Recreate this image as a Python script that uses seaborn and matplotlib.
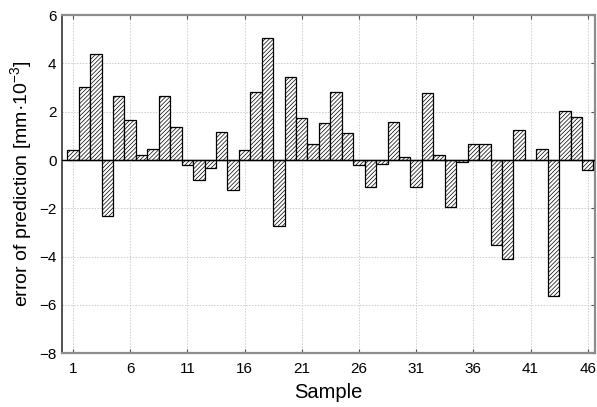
import matplotlib
matplotlib.use("Agg")
import matplotlib.pyplot as plt
import seaborn as sns
import numpy as np
import pandas as pd

samples = list(range(1, 47))
errors = [0.43, 3.02, 4.39, -2.33, 2.63, 1.66, 0.21, 0.45, 2.63, 1.38,
          -0.21, -0.83, -0.33, 1.18, -1.23, 0.43, 2.82, 5.05, -2.73, 3.44,
          1.74, 0.67, 1.53, 2.82, 1.12, -0.21, -1.11, -0.15, 1.59, 0.12,
          -1.11, 2.76, 0.21, -1.96, -0.08, 0.67, 0.67, -3.52, -4.09, 1.25,
          0.02, 0.44, -5.62, 2.01, 1.78, -0.43]
xticks = [1, 6, 11, 16, 21, 26, 31, 36, 41, 46]
yticks = [-8, -6, -4, -2, 0, 2, 4, 6]

sns.set_style("white")
plt.rcParams['font.family'] = ['Liberation Sans', 'DejaVu Sans']
plt.rcParams['mathtext.fontset'] = 'custom'
plt.rcParams['mathtext.rm'] = 'Liberation Sans'
plt.rcParams['mathtext.it'] = 'Liberation Sans:italic'
plt.rcParams['mathtext.bf'] = 'Liberation Sans:bold'
plt.rcParams['hatch.linewidth'] = 0.5
plt.rcParams['hatch.color'] = '#222222'
plt.rcParams['text.color'] = 'black'
plt.rcParams['axes.labelcolor'] = 'black'
plt.rcParams['xtick.labelcolor'] = 'black'
plt.rcParams['ytick.labelcolor'] = 'black'

df = pd.DataFrame({"Sample": samples, "error": errors})

fig = plt.figure(figsize=(5.97, 4.07), dpi=100)
ax = fig.add_axes([0.104, 0.132, 0.893, 0.831])

sns.barplot(data=df, x="Sample", y="error", native_scale=True, width=1.0,
            color="white", edgecolor="black", linewidth=0.9, ax=ax, zorder=3)
for p in ax.patches:
    p.set_hatch("////////")
    p.set_facecolor("white")
    p.set_edgecolor("black")

ax.axhline(0, color="black", lw=1.0, zorder=4)
ax.set_xlim(0.05, 46.65)
ax.set_ylim(-8, 6)
ax.set_xticks(xticks)
ax.set_yticks(yticks)
ax.grid(True, color="#cccccc", linestyle=(0, (1.5, 1.5)), linewidth=0.7, zorder=0)
ax.set_axisbelow(True)

ax.tick_params(axis="x", direction="in", length=3, top=True, bottom=True,
               labelsize=11, color="#555555", labelcolor="black", pad=6)
ax.tick_params(axis="y", direction="in", length=3, left=False, right=True,
               labelsize=11, color="#555555", labelcolor="black", pad=4)

for s in ["top", "bottom", "right"]:
    ax.spines[s].set_color("#8c8c8c")
    ax.spines[s].set_linewidth(1.6)
ax.spines["left"].set_color("#333333")
ax.spines["left"].set_linewidth(1.2)

ax.set_xlabel("Sample", fontsize=14.5, labelpad=5, color="black")
ax.set_ylabel("error of prediction [mm\u00b710$^{-3}$]", fontsize=14, labelpad=4, color="black")

fig.savefig("out.png", dpi=100)
